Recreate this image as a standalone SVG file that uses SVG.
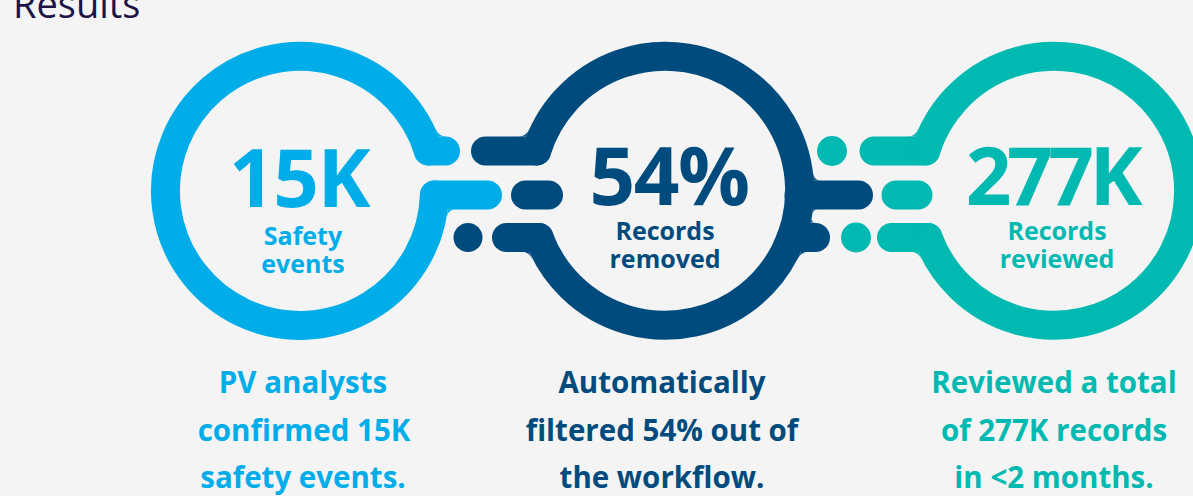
<svg xmlns="http://www.w3.org/2000/svg" width="1193" height="496" viewBox="0 0 1193 496">
<style>
.bg{fill:#F4F4F4}
.ring{fill:none;stroke-width:29;stroke-linecap:round}
.bar{fill:none;stroke-width:29;stroke-linecap:round}
.lb{stroke:#00ADE9}
.db{stroke:#004B7D}
.tl{stroke:#00B9B1}
.flb{fill:#00ADE9}
.fdb{fill:#004B7D}
.ftl{fill:#00B9B1}
text{font-family:"Open Sans","Noto Sans","Liberation Sans",sans-serif;font-weight:700;text-anchor:middle}
.big{font-size:80px;letter-spacing:-1.5px}
.sub{font-size:25px}
.cap{font-size:29.5px}
.title{font-size:38px;font-weight:400;text-anchor:start;fill:#1C1447}
</style>
<rect class="bg" x="0" y="0" width="1193" height="496"/>
<text class="title" x="13" y="18">Results</text>

<g id="connectors">
  <!-- circle1 to circle2 -->
  <line class="bar lb" x1="428.4" y1="151" x2="445.5" y2="151"/>
  <line class="bar lb" x1="434.4" y1="195" x2="487.5" y2="195"/>
  <path class="flb" d="M435.3 128.5L438.7 136.5L446.7 136.5Q438.7 136.5 435.3 128.5Z"/>
  <path class="flb" d="M446.6 217.5L447.8 209.5L455.8 209.5Q447.8 209.5 446.6 217.5Z"/>
  <line class="bar db" x1="485.5" y1="151" x2="536.6" y2="151"/>
  <line class="bar db" x1="525.5" y1="195" x2="548.5" y2="195"/>
  <circle class="fdb" cx="468" cy="237.5" r="14.5"/>
  <line class="bar db" x1="506.5" y1="237.5" x2="539" y2="237.5"/>
  <path class="fdb" d="M529.7 128.5L526.3 136.5L518.3 136.5Q526.3 136.5 529.7 128.5Z"/>
  <path class="fdb" d="M532.7 259.5L528.8 251.5L520.8 251.5Q528.8 251.5 532.7 259.5Z"/>
  <!-- circle2 to circle3 -->
  <circle class="ftl" cx="832" cy="151" r="15"/>
  <line class="bar tl" x1="874" y1="151" x2="925.6" y2="151"/>
  <line class="bar db" x1="799" y1="195" x2="858.5" y2="195"/>
  <line class="bar tl" x1="896" y1="195" x2="918" y2="195"/>
  <line class="bar db" x1="791" y1="237.5" x2="815.5" y2="237.5"/>
  <path class="fdb" d="M812.8 172.5L813.6 180.5L821.6 180.5Q813.6 180.5 812.8 172.5Z"/>
  <path class="fdb" d="M812.1 214.5L812.8 209.5L818 209.5Q812.8 209.5 812.1 214.5Z"/>
  <path class="fdb" d="M811.6 217.5L810.6 222.5L816 222.5Q810.6 222.5 811.6 217.5Z"/>
  <path class="fdb" d="M797.3 259.5L801.2 251.5L809.2 251.5Q801.2 251.5 797.3 259.5Z"/>
  <circle class="ftl" cx="856" cy="237.5" r="15"/>
  <line class="bar tl" x1="891.5" y1="237.5" x2="928" y2="237.5"/>
  <path class="ftl" d="M918.7 128.5L915.3 136.5L907.3 136.5Q915.3 136.5 918.7 128.5Z"/>
  <path class="ftl" d="M921.7 259.5L917.8 251.5L909.8 251.5Q917.8 251.5 921.7 259.5Z"/>
</g>

<g id="node-safety-events">
  <path class="ring lb" d="M434.4 195 A134.5 134.5 0 1 1 428.4 151"/>
  <text class="big flb" x="299" y="207">15K</text>
  <text class="sub flb" x="303" y="245">Safety</text>
  <text class="sub flb" x="303" y="273">events</text>
  <text class="cap flb" x="303" y="393">PV analysts</text>
  <text class="cap flb" x="304" y="441">confirmed 15K</text>
  <text class="cap flb" x="303" y="488">safety events.</text>
</g>

<g id="node-records-removed">
  <path class="ring db" d="M536.6 151 A134.5 134.5 0 1 1 539 237.5"/>
  <text class="big fdb" x="669" y="205">54%</text>
  <text class="sub fdb" x="665" y="240">Records</text>
  <text class="sub fdb" x="665" y="268">removed</text>
  <text class="cap fdb" x="662" y="393">Automatically</text>
  <text class="cap fdb" x="662" y="441">filtered 54% out of</text>
  <text class="cap fdb" x="662" y="488">the workflow.</text>
</g>

<g id="node-records-reviewed">
  <path class="ring tl" d="M925.6 151 A134.5 134.5 0 1 1 928 237.5"/>
  <text class="big ftl" x="1052" y="205" style="letter-spacing:-4.5px">277K</text>
  <text class="sub ftl" x="1057" y="240">Records</text>
  <text class="sub ftl" x="1057" y="268">reviewed</text>
  <text class="cap ftl" x="1054" y="393">Reviewed a total</text>
  <text class="cap ftl" x="1054" y="441">of 277K records</text>
  <text class="cap ftl" x="1054" y="488">in &lt;2 months.</text>
</g>
</svg>
